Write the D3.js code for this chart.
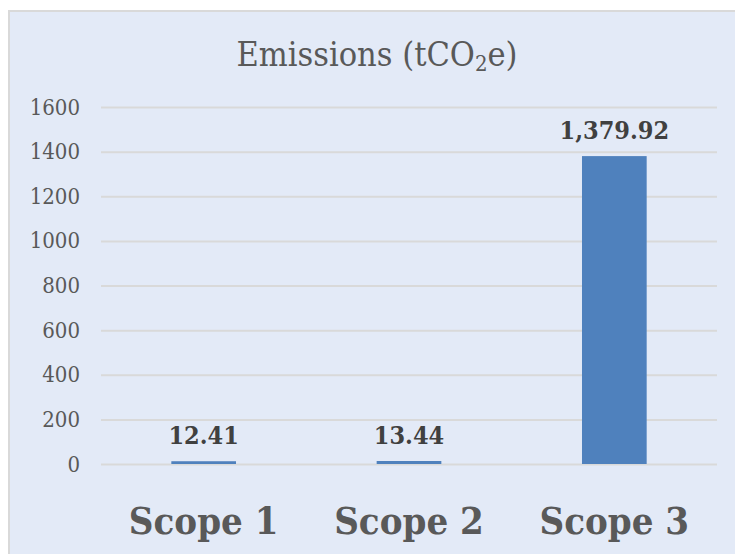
<!DOCTYPE html>
<html>
<head>
<meta charset="utf-8">
<script src="https://cdn.jsdelivr.net/npm/d3@7"></script>
<style type="text/css">
  body{
    margin: 0;
    background: white;
  }
  .axis path,
  .axis line {
    stroke: none;
  }
  .axis text {
    fill: #595959;
    font-family: 'DejaVu Serif Condensed', 'DejaVu Serif', serif;
    font-size: 22px;
  }
  .grid line {
    stroke: #d9d9d9;
    stroke-width: 2px;
  }
  .grid path { stroke: none; }
</style>
</head>
<body>

<svg id="chart" width="735" height="554"></svg>

<script>

var categories = ['Scope 1', 'Scope 2', 'Scope 3'];
var values = [12.41, 13.44, 1379.92];
var valueLabels = ['12.41', '13.44', '1,379.92'];
var yTicks = [0, 200, 400, 600, 800, 1000, 1200, 1400, 1600];

var width = 735;
var height = 554;

var margin = {left: 101, right: 18, top: 107, bottom: 90};

var svg = d3.select('#chart');

// chart area background + border
svg.append('rect')
  .attr('x', 9)
  .attr('y', 11)
  .attr('width', width)
  .attr('height', height)
  .attr('fill', '#e3eaf7')
  .attr('stroke', '#d9d9d9')
  .attr('stroke-width', 2);

var x = d3.scaleBand()
  .domain(categories)
  .range([margin.left, width - margin.right])
  .paddingInner(0.685)
  .paddingOuter(0.3425);

var y = d3.scaleLinear()
  .domain([0, 1600])
  .range([height - margin.bottom, margin.top]);

// gridlines
svg.append('g')
  .attr('class', 'grid')
  .attr('transform', 'translate(' + margin.left + ',0)')
  .call(d3.axisRight(y).tickValues(yTicks).tickSize(width - margin.left - margin.right).tickFormat(''));

// y axis labels
svg.append('g')
  .attr('class', 'axis')
  .attr('transform', 'translate(' + (margin.left - 21) + ',0)')
  .call(d3.axisLeft(y).tickValues(yTicks).tickSize(0).tickPadding(0).tickFormat(d3.format('d')));

// bars
svg.selectAll('.bar')
  .data(values)
  .enter()
  .append('rect')
  .attr('class', 'bar')
  .attr('x', function(d, i) { return x(categories[i]); })
  .attr('width', x.bandwidth())
  .attr('y', function(d) { return y(d); })
  .attr('height', function(d) { return y(0) - y(d); })
  .attr('fill', '#4f81bd');

// value labels
svg.selectAll('.valueText')
  .data(values)
  .enter()
  .append('text')
  .attr('class', 'valueText')
  .attr('x', function(d, i) { return x(categories[i]) + x.bandwidth() / 2; })
  .attr('y', function(d) { return y(d) - 17; })
  .attr('text-anchor', 'middle')
  .style('font-family', "'DejaVu Serif Condensed', 'DejaVu Serif', serif")
  .style('font-weight', 'bold')
  .style('font-size', '25px')
  .style('fill', '#404040')
  .text(function(d, i) { return valueLabels[i]; });

// category labels
svg.append('g')
  .attr('class', 'axis xaxis')
  .attr('transform', 'translate(0,' + (height - 20) + ')')
  .call(d3.axisBottom(x).tickSize(0).tickPadding(0))
  .selectAll('text')
  .attr('dy', 0)
  .style('font-size', '38px')
  .style('font-weight', 'bold');

// title
var title = svg.append('text')
  .attr('x', 377)
  .attr('y', 66)
  .attr('text-anchor', 'middle')
  .style('font-family', "'DejaVu Serif Condensed', 'DejaVu Serif', serif")
  .style('font-size', '34px')
  .style('fill', '#595959');

title.append('tspan').text('Emissions (tCO');
title.append('tspan').attr('dy', 5).style('font-size', '22px').text('2');
title.append('tspan').attr('dy', -5).text('e)');

</script>

</body>
</html>
